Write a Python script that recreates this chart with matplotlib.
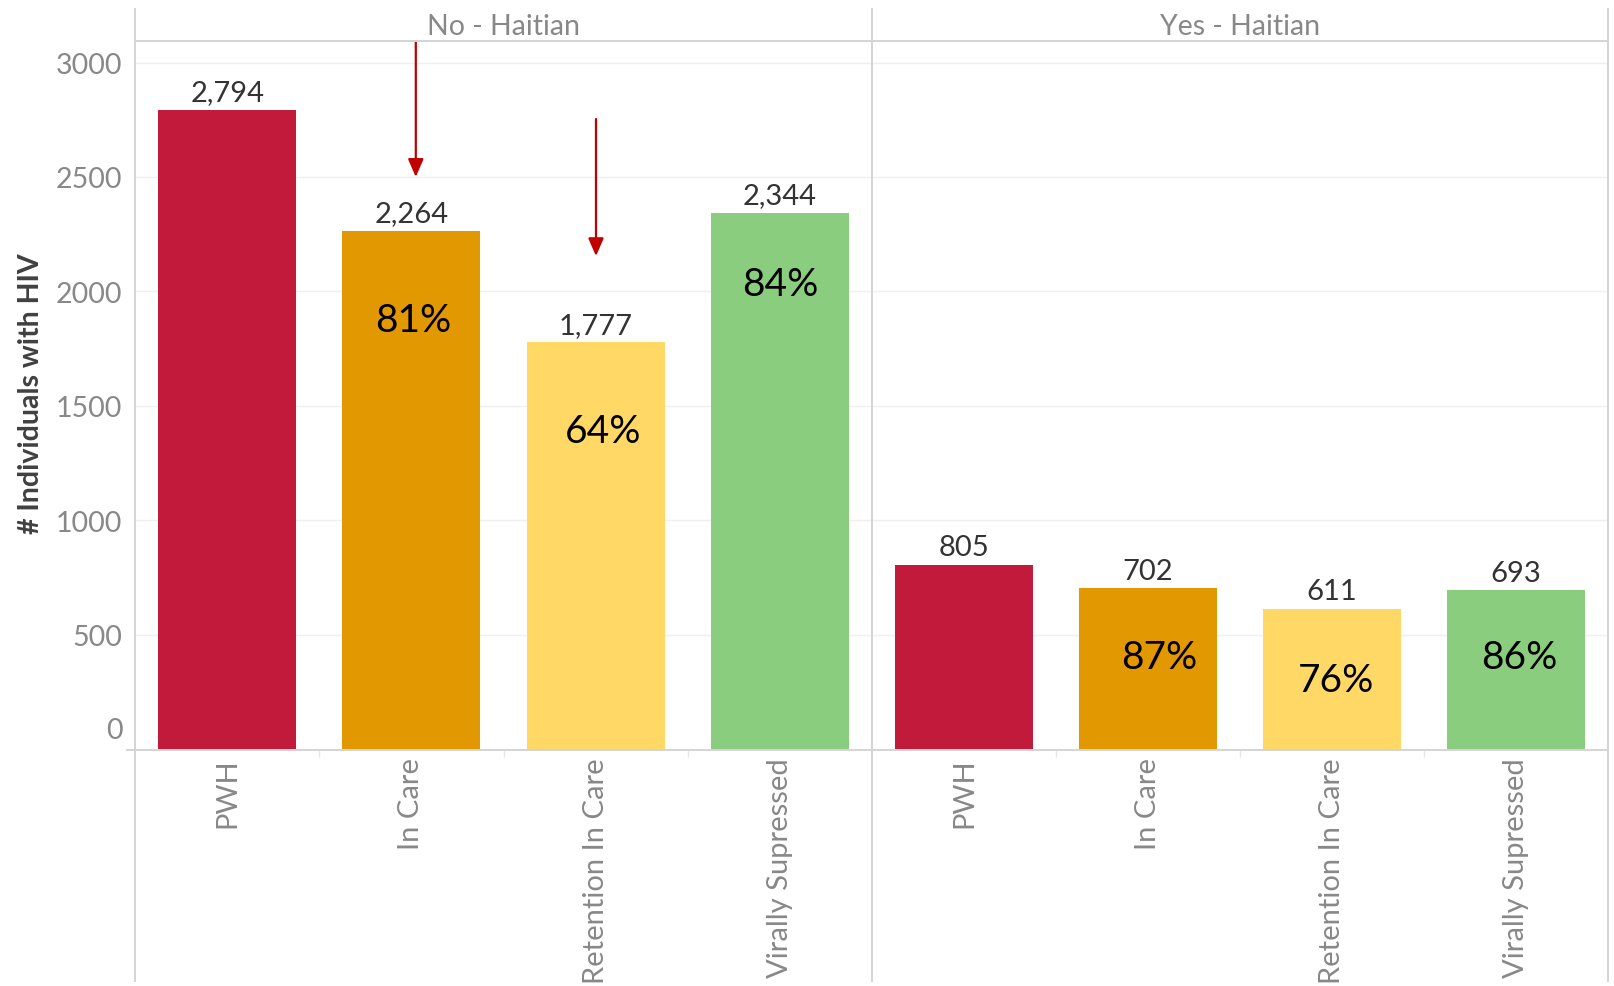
import matplotlib
matplotlib.use("Agg")
import matplotlib.pyplot as plt
from matplotlib.lines import Line2D

plt.rcParams['font.family'] = ['Lato', 'DejaVu Sans']

# cascade data
stages = ["PWH", "In Care", "Retention In Care", "Virally Supressed"]
groups = ["No - Haitian", "Yes - Haitian"]
counts_no = [2794, 2264, 1777, 2344]
counts_yes = [805, 702, 611, 693]
stage_colors = ["#C11A3A", "#E29800", "#FFD866", "#8BCD7E"]
yticks = [0, 500, 1000, 1500, 2000, 2500, 3000]

W, H = 1614, 987
fig = plt.figure(figsize=(W / 100, H / 100), dpi=100)

def fx(px):
    return px / W

def fy(py):
    return 1 - py / H

gray_line = "#d4d4d4"
tick_gray = "#888888"
top = 3094

ax1 = fig.add_axes([fx(135), fy(750), fx(872 - 135), (750 - 42) / H])
ax2 = fig.add_axes([fx(872), fy(750), fx(1608 - 872), (750 - 42) / H])

# where the percentage callouts sit inside each bar
pct_y = [[None, 1825, 1343, 1982], [None, 354, 255, 354]]
pct_dx = [[0, 0.01, 0.04, 0.0], [0, 0.06, 0.02, 0.02]]

for k, (ax, counts) in enumerate([(ax1, counts_no), (ax2, counts_yes)]):
    x = list(range(len(stages)))
    ax.bar(x, counts, width=0.75, color=stage_colors, zorder=3)
    ax.set_xlim(-0.5, 3.5)
    ax.set_ylim(0, top)
    for s in ax.spines.values():
        s.set_visible(False)
    ax.set_yticks(yticks[1:])
    ax.grid(axis='y', color="#efefef", lw=1.0, zorder=0)
    ax.set_xticks(x)
    ax.set_xticklabels(stages, rotation=90, fontsize=21, color=tick_gray)
    ax.set_xticks([0.5, 1.5, 2.5], minor=True)
    ax.tick_params(axis='x', which='major', length=0, pad=6)
    ax.tick_params(axis='x', which='minor', length=6, color="#e8e8e8", width=1)
    if k == 0:
        ax.set_yticklabels([str(t) for t in yticks[1:]], fontsize=20.5, color=tick_gray)
        ax.tick_params(axis='y', length=0, pad=9)
        ax.annotate("0", xy=(0, 0), xycoords=('axes fraction', 'data'),
                    xytext=(-9, 14), textcoords='offset points',
                    ha='right', va='center', fontsize=20.5, color=tick_gray)
    else:
        ax.tick_params(axis='y', length=0, labelleft=False)

    for i, v in enumerate(counts):
        ax.annotate(f"{v:,}", xy=(i, v), xytext=(0, 7), textcoords='offset points',
                    ha='center', va='baseline', fontsize=21, color="#333333")
        if i > 0:
            pct = round(100 * v / counts[0])
            ax.text(i + pct_dx[k][i], pct_y[k][i], f"{pct}%", ha='center',
                    va='baseline', fontsize=28, color="black", zorder=4)

    fig.text(fx(135 + (737 * (k + 0.5))), fy(27), groups[k], ha='center', va='center',
             fontsize=20.5, color=tick_gray)

# drop arrows on the first panel
arrow_kw = dict(arrowstyle='-|>,head_length=1.08,head_width=0.47', color="#C00000",
                lw=1.6, mutation_scale=10, shrinkA=0, shrinkB=0)
ax1.annotate("", xy=(1.024, 2500), xytext=(1.024, top), arrowprops=arrow_kw,
             annotation_clip=False, zorder=5)
ax1.annotate("", xy=(2.002, 2154), xytext=(2.002, 2753), arrowprops=arrow_kw,
             annotation_clip=False, zorder=5)

# frame lines around the panels
for xp in (135, 872, 1608):
    fig.add_artist(Line2D([fx(xp), fx(xp)], [fy(10), fy(982)], color=gray_line, lw=1.4))
fig.add_artist(Line2D([fx(135), fx(1608)], [fy(42), fy(42)], color=gray_line, lw=1.4))
fig.add_artist(Line2D([fx(127), fx(1608)], [fy(750.5), fy(750.5)], color=gray_line, lw=1.4))

fig.text(fx(31), fy(394), "# Individuals with HIV", rotation=90, ha='center', va='center',
         fontsize=20.5, fontweight='bold', color="#404040")

fig.savefig("out.png", dpi=100)
